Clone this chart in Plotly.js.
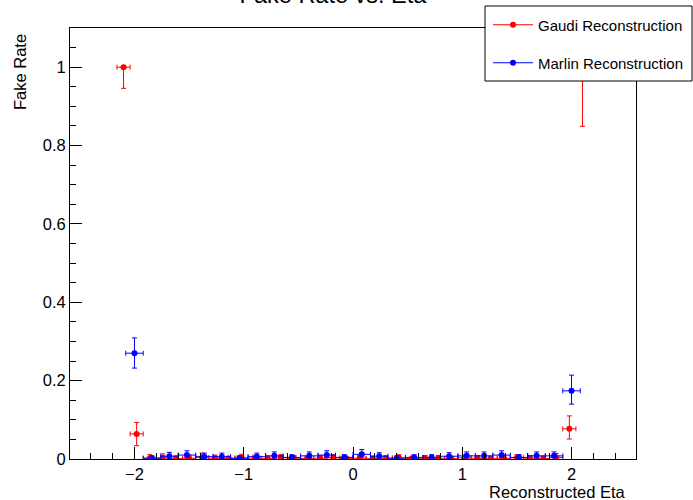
<!DOCTYPE html>
<html>
<head>
<meta charset="utf-8">
<script src="https://cdn.plot.ly/plotly-3.0.1.min.js"></script>
<style>html,body{margin:0;padding:0;background:#fff;}#chart{width:693px;height:500px;}</style>
</head>
<body>
<div id="chart"></div>
<script>
// ---- data ----
const gaudiEta = [-2.10, -1.98, -1.86, -1.74, -1.62, -1.50, -1.38, -1.26, -1.14, -1.02, -0.90, -0.78,
  -0.66, -0.54, -0.42, -0.30, -0.18, -0.06, 0.06, 0.18, 0.30, 0.42, 0.54, 0.66,
  0.78, 0.90, 1.02, 1.14, 1.26, 1.38, 1.50, 1.62, 1.74, 1.86, 1.98, 2.10];
const gaudiRate = [1.000, 0.064, 0.002, 0.003, 0.001, 0.002, 0.004, 0.002, 0.001, 0.003, 0.002, 0.001,
  0.003, 0.002, 0.001, 0.002, 0.003, 0.001, 0.002, 0.001, 0.002, 0.003, 0.001, 0.002,
  0.002, 0.001, 0.003, 0.002, 0.001, 0.002, 0.003, 0.002, 0.001, 0.004, 0.077, 1.000];
const gaudiErrHi = [0.000, 0.029, 0.009, 0.010, 0.007, 0.008, 0.011, 0.008, 0.006, 0.009, 0.008, 0.006,
  0.008, 0.007, 0.006, 0.007, 0.008, 0.006, 0.007, 0.006, 0.007, 0.008, 0.006, 0.007,
  0.007, 0.006, 0.008, 0.007, 0.006, 0.007, 0.008, 0.007, 0.006, 0.010, 0.033, 0.000];
const gaudiErrLo = [0.054, 0.030, 0.002, 0.002, 0.001, 0.002, 0.003, 0.002, 0.001, 0.002, 0.002, 0.001,
  0.002, 0.002, 0.001, 0.002, 0.002, 0.001, 0.002, 0.001, 0.002, 0.002, 0.001, 0.002,
  0.002, 0.001, 0.002, 0.002, 0.001, 0.002, 0.002, 0.002, 0.001, 0.003, 0.026, 0.151];
const gaudiEtaErr = 0.06;

const marlinEta = [-2.00, -1.84, -1.68, -1.52, -1.36, -1.20, -1.04, -0.88, -0.72, -0.56, -0.40, -0.24, -0.08,
  0.08, 0.24, 0.40, 0.56, 0.72, 0.88, 1.04, 1.20, 1.36, 1.52, 1.68, 1.84, 2.00];
const marlinRate = [0.270, 0.002, 0.007, 0.010, 0.006, 0.006, 0.002, 0.006, 0.008, 0.004, 0.008, 0.010, 0.004,
  0.012, 0.007, 0.002, 0.004, 0.004, 0.007, 0.008, 0.008, 0.010, 0.004, 0.008, 0.008, 0.174];
const marlinErrHi = [0.039, 0.006, 0.010, 0.011, 0.009, 0.009, 0.006, 0.009, 0.010, 0.007, 0.010, 0.011, 0.007,
  0.012, 0.009, 0.006, 0.007, 0.007, 0.009, 0.010, 0.010, 0.011, 0.007, 0.010, 0.010, 0.040];
const marlinErrLo = [0.038, 0.002, 0.005, 0.006, 0.004, 0.004, 0.002, 0.004, 0.005, 0.003, 0.005, 0.006, 0.003,
  0.007, 0.005, 0.002, 0.003, 0.003, 0.005, 0.005, 0.005, 0.006, 0.003, 0.005, 0.005, 0.034];
const marlinEtaErr = 0.08;

const seriesNames = ['Gaudi Reconstruction', 'Marlin Reconstruction'];
const chartTitle = 'Fake Rate vs. Eta';
const xTitle = 'Reconstructed Eta';
const yTitle = 'Fake Rate';

// ---- styling ----
const FONT = 'Liberation Sans, Arial, Helvetica, sans-serif';
const RED = '#ff0000', BLUE = '#0000ff';

function series(x, y, hi, lo, xe, color, name) {
  return {
    type: 'scatter', mode: 'markers', x: x, y: y, name: name, showlegend: false,
    marker: {color: color, size: 6, symbol: 'circle'},
    error_y: {type: 'data', symmetric: false, array: hi, arrayminus: lo, color: color, thickness: 1, width: 2.5},
    error_x: {type: 'data', array: x.map(() => xe), color: color, thickness: 1, width: 2.5},
    cliponaxis: true
  };
}
function legendEntry(color, name, legend) {
  return {type: 'scatter', mode: 'lines+markers', x: [null], y: [null], name: name, legend: legend,
    line: {color: color, width: 1}, marker: {color: color, size: 6}};
}

const traces = [
  series(gaudiEta, gaudiRate, gaudiErrHi, gaudiErrLo, gaudiEtaErr, RED, seriesNames[0]),
  series(marlinEta, marlinRate, marlinErrHi, marlinErrLo, marlinEtaErr, BLUE, seriesNames[1]),
  legendEntry(RED, seriesNames[0], 'legend'),
  legendEntry(BLUE, seriesNames[1], 'legend2')
];

const L = 70, T = 28, W = 566, H = 431;
const px = v => (v - L) / W;
const py = v => (T + H - v) / H;

const axisCommon = {
  showline: true, mirror: true, linecolor: '#000', linewidth: 1,
  ticks: 'inside', ticklen: 12, tickwidth: 1, tickcolor: '#000',
  showgrid: false, zeroline: false,
  tickfont: {family: FONT, size: 16.5, color: '#000'},
};

const legendCommon = {x: px(488), xanchor: 'left', yanchor: 'middle', bgcolor: 'rgba(0,0,0,0)', borderwidth: 0,
  font: {family: FONT, size: 15, color: '#000'}, itemwidth: 40};

const layout = {
  width: 693, height: 500,
  margin: {l: L, r: 693 - L - W, t: T, b: 500 - T - H, pad: 0, autoexpand: false},
  paper_bgcolor: '#fff', plot_bgcolor: '#fff',
  title: {text: chartTitle, font: {family: FONT, size: 23.5, color: '#000'},
    xref: 'container', yref: 'container', x: 333 / 693, xanchor: 'center', y: 1 - 2.5 / 500, yanchor: 'bottom'},
  xaxis: Object.assign({}, axisCommon, {range: [-2.59, 2.59], tick0: 0, dtick: 1,
    minor: {ticks: 'inside', tick0: 0, dtick: 0.2, ticklen: 6, tickcolor: '#000', tickwidth: 1, showgrid: false}}),
  yaxis: Object.assign({}, axisCommon, {range: [0, 1.1], tick0: 0, dtick: 0.2,
    minor: {ticks: 'inside', tick0: 0, dtick: 0.05, ticklen: 6, tickcolor: '#000', tickwidth: 1, showgrid: false}}),
  shapes: [
    {type: 'rect', xref: 'paper', yref: 'paper', x0: px(485), x1: px(692), y0: py(81), y1: py(6),
     fillcolor: '#fff', line: {color: '#000', width: 1}, layer: 'above'}
  ],
  legend: Object.assign({}, legendCommon, {y: py(25)}),
  legend2: Object.assign({}, legendCommon, {y: py(63)}),
  annotations: [
    {text: xTitle, xref: 'paper', yref: 'paper', x: px(628), xanchor: 'right', y: py(492), yanchor: 'middle',
     showarrow: false, font: {family: FONT, size: 16.5, color: '#000'}},
    {text: yTitle, xref: 'paper', yref: 'paper', x: px(20), xanchor: 'center', y: py(32), yanchor: 'top',
     textangle: -90, showarrow: false, font: {family: FONT, size: 16.5, color: '#000'}}
  ]
};

Plotly.newPlot('chart', traces, layout, {displayModeBar: false, staticPlot: true});
</script>
</body>
</html>
